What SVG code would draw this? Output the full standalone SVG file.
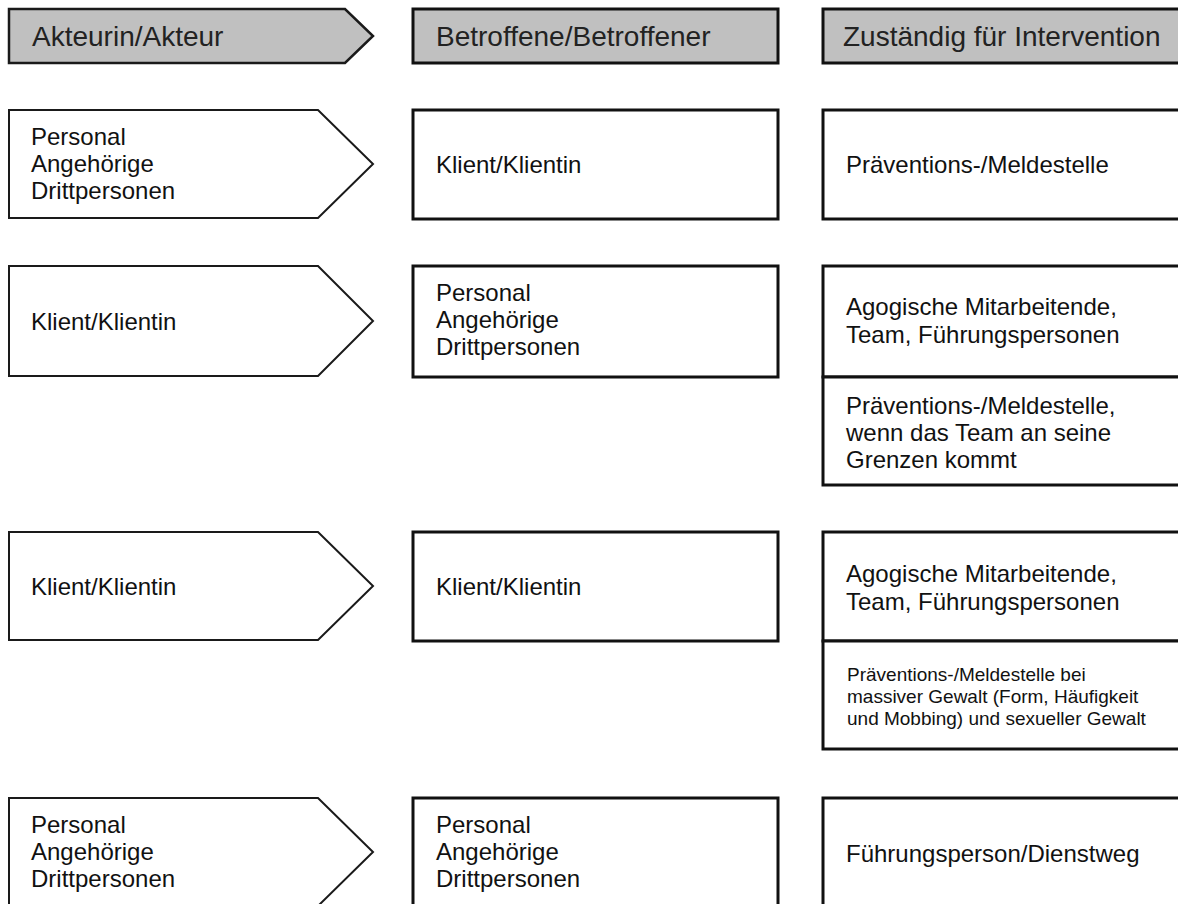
<svg xmlns="http://www.w3.org/2000/svg" width="1178" height="904" viewBox="0 0 1178 904">
<style>
.hdr{fill:#c0c0c0;stroke:#1a1a1a;stroke-width:2.5}
.hbox{fill:#c0c0c0;stroke:#111;stroke-width:3}
.arrow{fill:#fff;stroke:#1a1a1a;stroke-width:2}
.box{fill:#fff;stroke:#111;stroke-width:3}
.ht{font-family:"Liberation Sans",Arial,sans-serif;font-size:28px;fill:#222}
.t{font-family:"Liberation Sans",Arial,sans-serif;font-size:24px;fill:#111}
.s{font-family:"Liberation Sans",Arial,sans-serif;font-size:19px;fill:#111}
</style>
<rect width="1178" height="904" fill="#fff"/>
<g id="header-akteur"><path class="hdr" d="M9,9 H345 L373,36 L345,63 H9 Z"/><text class="ht" x="32" y="46">Akteurin/Akteur</text></g>
<g id="header-betroffene"><rect class="hbox" x="413" y="9" width="365" height="54"/><text class="ht" x="436" y="46">Betroffene/Betroffener</text></g>
<g id="header-zustaendig"><rect class="hbox" x="823" y="9" width="370" height="54"/><text class="ht" x="843" y="46">Zuständig für Intervention</text></g>

<g id="r1-akteur"><path class="arrow" d="M9,110 H318 L373,164 L318,218 H9 Z"/><text class="t" x="31"><tspan x="31" y="145">Personal</tspan><tspan x="31" y="172">Angehörige</tspan><tspan x="31" y="199">Drittpersonen</tspan></text></g>
<g id="r1-betroffene"><rect class="box" x="413" y="110" width="365" height="109"/><text class="t" x="436" y="173">Klient/Klientin</text></g>
<g id="r1-zustaendig"><rect class="box" x="823" y="110" width="370" height="109"/><text class="t" x="846" y="173">Präventions-/Meldestelle</text></g>

<g id="r2-akteur"><path class="arrow" d="M9,266 H318 L373,321 L318,376 H9 Z"/><text class="t" x="31" y="330">Klient/Klientin</text></g>
<g id="r2-betroffene"><rect class="box" x="413" y="266" width="365" height="111"/><text class="t"><tspan x="436" y="301">Personal</tspan><tspan x="436" y="328">Angehörige</tspan><tspan x="436" y="355">Drittpersonen</tspan></text></g>
<g id="r2-zustaendig-a"><rect class="box" x="823" y="266" width="370" height="111"/><text class="t"><tspan x="846" y="315">Agogische Mitarbeitende,</tspan><tspan x="846" y="343">Team, Führungspersonen</tspan></text></g>
<g id="r2-zustaendig-b"><rect class="box" x="823" y="377" width="370" height="108"/><text class="t"><tspan x="846" y="414">Präventions-/Meldestelle,</tspan><tspan x="846" y="441">wenn das Team an seine</tspan><tspan x="846" y="468">Grenzen kommt</tspan></text></g>

<g id="r3-akteur"><path class="arrow" d="M9,532 H318 L373,586 L318,640 H9 Z"/><text class="t" x="31" y="595">Klient/Klientin</text></g>
<g id="r3-betroffene"><rect class="box" x="413" y="532" width="365" height="109"/><text class="t" x="436" y="595">Klient/Klientin</text></g>
<g id="r3-zustaendig-a"><rect class="box" x="823" y="532" width="370" height="109"/><text class="t"><tspan x="846" y="582">Agogische Mitarbeitende,</tspan><tspan x="846" y="610">Team, Führungspersonen</tspan></text></g>
<g id="r3-zustaendig-b"><rect class="box" x="823" y="641" width="370" height="108"/><text class="s"><tspan x="847" y="681">Präventions-/Meldestelle bei</tspan><tspan x="847" y="703">massiver Gewalt (Form, Häufigkeit</tspan><tspan x="847" y="725">und Mobbing) und sexueller Gewalt</tspan></text></g>

<g id="r4-akteur"><path class="arrow" d="M9,798 H318 L373,852 L318,906 H9 Z"/><text class="t"><tspan x="31" y="833">Personal</tspan><tspan x="31" y="860">Angehörige</tspan><tspan x="31" y="887">Drittpersonen</tspan></text></g>
<g id="r4-betroffene"><rect class="box" x="413" y="798" width="365" height="120"/><text class="t"><tspan x="436" y="833">Personal</tspan><tspan x="436" y="860">Angehörige</tspan><tspan x="436" y="887">Drittpersonen</tspan></text></g>
<g id="r4-zustaendig"><rect class="box" x="823" y="798" width="370" height="120"/><text class="t" x="846" y="862">Führungsperson/Dienstweg</text></g>
<g id="connectors"/>
</svg>
